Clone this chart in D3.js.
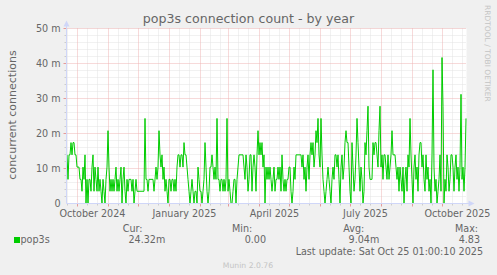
<!doctype html>
<html>
<head>
<meta charset="utf-8">
<style>
  body { margin: 0; background: #f0f0f0; }
  svg { display: block; }
  text { font-family: 'DejaVu Sans', sans-serif; fill: #666666; }
  .minor { stroke: #e2e2e2; stroke-width: 1; stroke-dasharray: 1 1; }
  .major { stroke: #eeb4b4; stroke-width: 1; stroke-dasharray: 1 1; }
  .tick-minor { stroke: #cccccc; }
  .tick-major { stroke: #e59a9a; }
  .axis { stroke: #cfd6f8; fill: none; }
  .arrow { fill: #cfd6f8; }
  .series { fill: none; stroke: #00cc00; stroke-width: 1; }
  .title { font-size: 12.6px; }
  .unit { font-size: 11px; }
  .tick { font-size: 9.6px; }
  .legend { font-size: 9.6px; }
  .water { font-size: 7.5px; fill: #c4c4c4; }
  .munin { font-size: 7.7px; fill: #c4c4c4; }
</style>
<script src="https://cdn.jsdelivr.net/npm/d3@7"></script>
</head>
<body>
<svg width="497" height="275"></svg>
<script>
const title = 'pop3s connection count - by year';
const vLabel = 'concurrent connections';
const yTicks = [0, 10, 20, 30, 40, 50];
const legendName = 'pop3s';
const legendHead = ['Cur:', 'Min:', 'Avg:', 'Max:'];
const legendVals = ['24.32m', '0.00', '9.04m', '4.83'];
const lastUpdate = 'Last update: Sat Oct 25 01:00:10 2025';
const version = 'Munin 2.0.76';
const watermark = 'RRDTOOL / TOBI OETIKER';

// daily averages, milli-connections, one per day over the 400 day window
const pop3s = [
  13.9, 6.9, 13.9, 13.9, 17.4, 13.9, 17.4, 17.4, 13.9, 13.9,
  10.4, 10.4, 10.4, 6.9, 6.9, 3.5, 10.4, 6.9, 13.9, 0,
  6.9, 0, 6.9, 6.9, 3.5, 10.4, 13.9, 3.5, 10.4, 6.9,
  3.5, 10.4, 3.5, 6.9, 3.5, 0, 6.9, 3.5, 0, 6.9,
  10.4, 20.8, 10.4, 3.5, 6.9, 3.5, 6.9, 3.5, 6.9, 10.4,
  3.5, 6.9, 3.5, 6.9, 10.4, 0, 6.9, 10.4, 3.5, 0,
  6.9, 3.5, 6.9, 6.9, 6.9, 3.5, 6.9, 0, 3.5, 6.9,
  3.5, 3.5, 3.5, 3.5, 3.5, 3.5, 3.5, 3.5, 24.3, 6.9,
  6.9, 3.5, 6.9, 6.9, 6.9, 6.9, 6.9, 3.5, 6.9, 10.4,
  6.9, 10.4, 20.8, 13.9, 10.4, 13.9, 6.9, 10.4, 3.5, 6.9,
  3.5, 0, 6.9, 6.9, 3.5, 6.9, 6.9, 3.5, 6.9, 3.5,
  10.4, 13.9, 13.9, 10.4, 13.9, 13.9, 10.4, 17.4, 13.9, 13.9,
  10.4, 6.9, 3.5, 0, 3.5, 6.9, 3.5, 0, 3.5, 3.5,
  0, 10.4, 6.9, 3.5, 3.5, 0, 3.5, 6.9, 17.4, 10.4,
  3.5, 0, 3.5, 10.4, 10.4, 13.9, 10.4, 6.9, 10.4, 6.9,
  24.3, 6.9, 6.9, 3.5, 6.9, 6.9, 3.5, 6.9, 3.5, 6.9,
  24.3, 3.5, 6.9, 3.5, 0, 0, 3.5, 6.9, 6.9, 0,
  6.9, 10.4, 13.9, 13.9, 13.9, 13.9, 13.9, 10.4, 6.9, 13.9,
  10.4, 3.5, 6.9, 13.9, 13.9, 3.5, 10.4, 13.9, 10.4, 3.5,
  13.9, 20.8, 13.9, 17.4, 13.9, 17.4, 10.4, 13.9, 0, 10.4,
  6.9, 10.4, 6.9, 10.4, 6.9, 3.5, 6.9, 10.4, 3.5, 6.9,
  6.9, 10.4, 6.9, 10.4, 3.5, 13.9, 6.9, 3.5, 6.9, 3.5,
  6.9, 6.9, 10.4, 10.4, 3.5, 0, 3.5, 10.4, 6.9, 13.9,
  13.9, 13.9, 13.9, 13.9, 13.9, 10.4, 13.9, 6.9, 10.4, 3.5,
  10.4, 13.9, 6.9, 13.9, 17.4, 13.9, 17.4, 10.4, 13.9, 20.8,
  17.4, 24.3, 13.9, 10.4, 24.3, 13.9, 6.9, 3.5, 0, 3.5,
  6.9, 10.4, 6.9, 3.5, 0, 6.9, 10.4, 6.9, 13.9, 13.9,
  10.4, 13.9, 6.9, 0, 10.4, 13.9, 6.9, 10.4, 17.4, 20.8,
  17.4, 17.4, 10.4, 3.5, 0, 17.4, 10.4, 3.5, 6.9, 13.9,
  24.3, 17.4, 10.4, 3.5, 10.4, 6.9, 0, 3.5, 17.4, 13.9,
  20.8, 27.8, 10.4, 6.9, 6.9, 6.9, 17.4, 13.9, 17.4, 17.4,
  13.9, 10.4, 20.8, 27.8, 10.4, 13.9, 6.9, 13.9, 13.9, 10.4,
  6.9, 13.9, 6.9, 10.4, 13.9, 20.8, 13.9, 13.9, 13.9, 10.4,
  6.9, 10.4, 3.5, 10.4, 6.9, 3.5, 10.4, 0, 6.9, 10.4,
  3.5, 13.9, 10.4, 24.3, 13.9, 6.9, 0, 10.4, 13.9, 6.9,
  10.4, 3.5, 13.9, 17.4, 17.4, 10.4, 13.9, 6.9, 3.5, 13.9,
  6.9, 10.4, 3.5, 6.9, 0, 13.9, 38.2, 10.4, 3.5, 6.9,
  0, 3.5, 6.9, 13.9, 3.5, 41.7, 27.8, 0, 6.9, 3.5,
  13.9, 10.4, 3.5, 6.9, 13.9, 13.9, 10.4, 3.5, 10.4, 13.9,
  6.9, 10.4, 3.5, 10.4, 31.2, 6.9, 10.4, 3.5, 10.4, 24.3
];

const svg = d3.select('svg');

const end = new Date(Date.UTC(2025, 9, 25, 1, 0, 10));
const start = d3.utcDay.offset(end, -400);

const x = d3.scaleTime().domain([start, end]).range([66.5, 466.5]);
const y = d3.scaleLinear().domain([0, 50]).range([203.5, 28.5]);

const plotLeft = x.range()[0], plotRight = x.range()[1];
const plotTop = y.range()[1], plotBottom = y.range()[0];

// canvas
svg.append('rect')
    .attr('x', plotLeft).attr('y', plotTop)
    .attr('width', plotRight - plotLeft).attr('height', plotBottom - plotTop)
    .attr('fill', '#fff');

// horizontal grid: minor every 2, major every 10
const g = svg.append('g');
const yMinor = d3.range(0, 51, 2).filter(v => !yTicks.includes(v));
yMinor.forEach(v => {
    g.append('line').attr('class', 'minor')
        .attr('x1', plotLeft).attr('x2', plotRight).attr('y1', y(v)).attr('y2', y(v));
    g.append('line').attr('class', 'tick-minor')
        .attr('x1', plotLeft - 2).attr('x2', plotLeft).attr('y1', y(v)).attr('y2', y(v));
});

// vertical grid: minor lines on the 11th and 21st, major on month starts
const months = d3.utcMonth.range(d3.utcMonth.floor(start), end);
const minorDays = [];
months.forEach(m => { minorDays.push(d3.utcDay.offset(m, 10), d3.utcDay.offset(m, 20)); });
minorDays.filter(d => d > start && d < end).forEach(d => {
    const px = Math.round(x(d)) + 0.5;
    g.append('line').attr('class', 'minor')
        .attr('x1', px).attr('x2', px).attr('y1', plotTop).attr('y2', plotBottom);
    g.append('line').attr('class', 'tick-minor')
        .attr('x1', px).attr('x2', px).attr('y1', plotBottom).attr('y2', plotBottom + 2);
});
const majorMonths = months.filter(d => d > start);
majorMonths.forEach(d => {
    const px = Math.round(x(d)) + 0.5;
    g.append('line').attr('class', 'major')
        .attr('x1', px).attr('x2', px).attr('y1', plotTop).attr('y2', plotBottom);
    g.append('line').attr('class', 'tick-major')
        .attr('x1', px).attr('x2', px).attr('y1', plotBottom).attr('y2', plotBottom + 3);
});
yTicks.filter(v => v > 0).forEach(v => {
    g.append('line').attr('class', 'major')
        .attr('x1', plotLeft).attr('x2', plotRight).attr('y1', y(v)).attr('y2', y(v));
    g.append('line').attr('class', 'tick-major')
        .attr('x1', plotLeft - 3).attr('x2', plotLeft).attr('y1', y(v)).attr('y2', y(v));
});

// y labels
svg.append('g').selectAll('text')
    .data(yTicks)
    .join('text')
    .attr('class', 'tick')
    .attr('x', 60.5)
    .attr('y', v => y(v))
    .attr('dy', '0.36em')
    .attr('text-anchor', 'end')
    .text(v => v === 0 ? '0' : `${v} m`);

// x labels, rrdtool centres them half a label period (15 days) after the month start
const fmt = d3.utcFormat('%B %Y');
const quarters = d3.utcMonth.every(3).range(start, end);
svg.append('g').selectAll('text')
    .data(quarters)
    .join('text')
    .attr('class', 'tick')
    .attr('x', d => x(d3.utcDay.offset(d, 15)))
    .attr('y', 216.5)
    .attr('text-anchor', 'middle')
    .text(d => fmt(d));

// series
const dates = pop3s.map((v, i) => new Date(start.getTime() + (i + 0.5) * 864e5));
const line = d3.line()
    .x((v, i) => x(dates[i]))
    .y(v => y(v));
svg.append('path')
    .datum(pop3s)
    .attr('class', 'series')
    .attr('d', line);

// axes with arrows
svg.append('line').attr('class', 'axis')
    .attr('x1', plotLeft).attr('x2', plotLeft).attr('y1', plotBottom).attr('y2', plotTop - 4);
svg.append('path').attr('class', 'arrow')
    .attr('d', `M${plotLeft - 3},${plotTop - 2} L${plotLeft + 3},${plotTop - 2} L${plotLeft},${plotTop - 8} Z`);
svg.append('line').attr('class', 'axis')
    .attr('x1', plotLeft).attr('x2', plotRight + 3).attr('y1', plotBottom).attr('y2', plotBottom);
svg.append('path').attr('class', 'arrow')
    .attr('d', `M${plotRight + 2},${plotBottom - 3} L${plotRight + 2},${plotBottom + 3} L${plotRight + 8},${plotBottom} Z`);

// titles
svg.append('text')
    .attr('class', 'title')
    .attr('x', 248.5)
    .attr('y', 22.5)
    .attr('text-anchor', 'middle')
    .text(title);

svg.append('text')
    .attr('class', 'unit')
    .attr('transform', 'translate(15.5,115) rotate(-90)')
    .attr('text-anchor', 'middle')
    .text(vLabel);

svg.append('text')
    .attr('class', 'water')
    .attr('transform', 'translate(485,5) rotate(90)')
    .text(watermark);

// legend
svg.append('rect')
    .attr('x', 14).attr('y', 237).attr('width', 6).attr('height', 6)
    .attr('fill', '#00cc00');
svg.append('text').attr('class', 'legend')
    .attr('x', 20.5).attr('y', 242.5).text(legendName);

const headX = [122.7, 232, 343.3, 455];
const valX = [165.3, 266, 379.3, 480];
legendHead.forEach((t, i) => {
    svg.append('text').attr('class', 'legend')
        .attr('x', headX[i]).attr('y', 231.5).text(t);
    svg.append('text').attr('class', 'legend')
        .attr('x', valX[i]).attr('y', 242.5)
        .attr('text-anchor', 'end')
        .text(legendVals[i]);
});

svg.append('text').attr('class', 'legend')
    .attr('x', 483).attr('y', 254.5)
    .attr('text-anchor', 'end')
    .text(lastUpdate);

svg.append('text').attr('class', 'munin')
    .attr('x', 248).attr('y', 267.5)
    .attr('text-anchor', 'middle')
    .text(version);
</script>
</body>
</html>
